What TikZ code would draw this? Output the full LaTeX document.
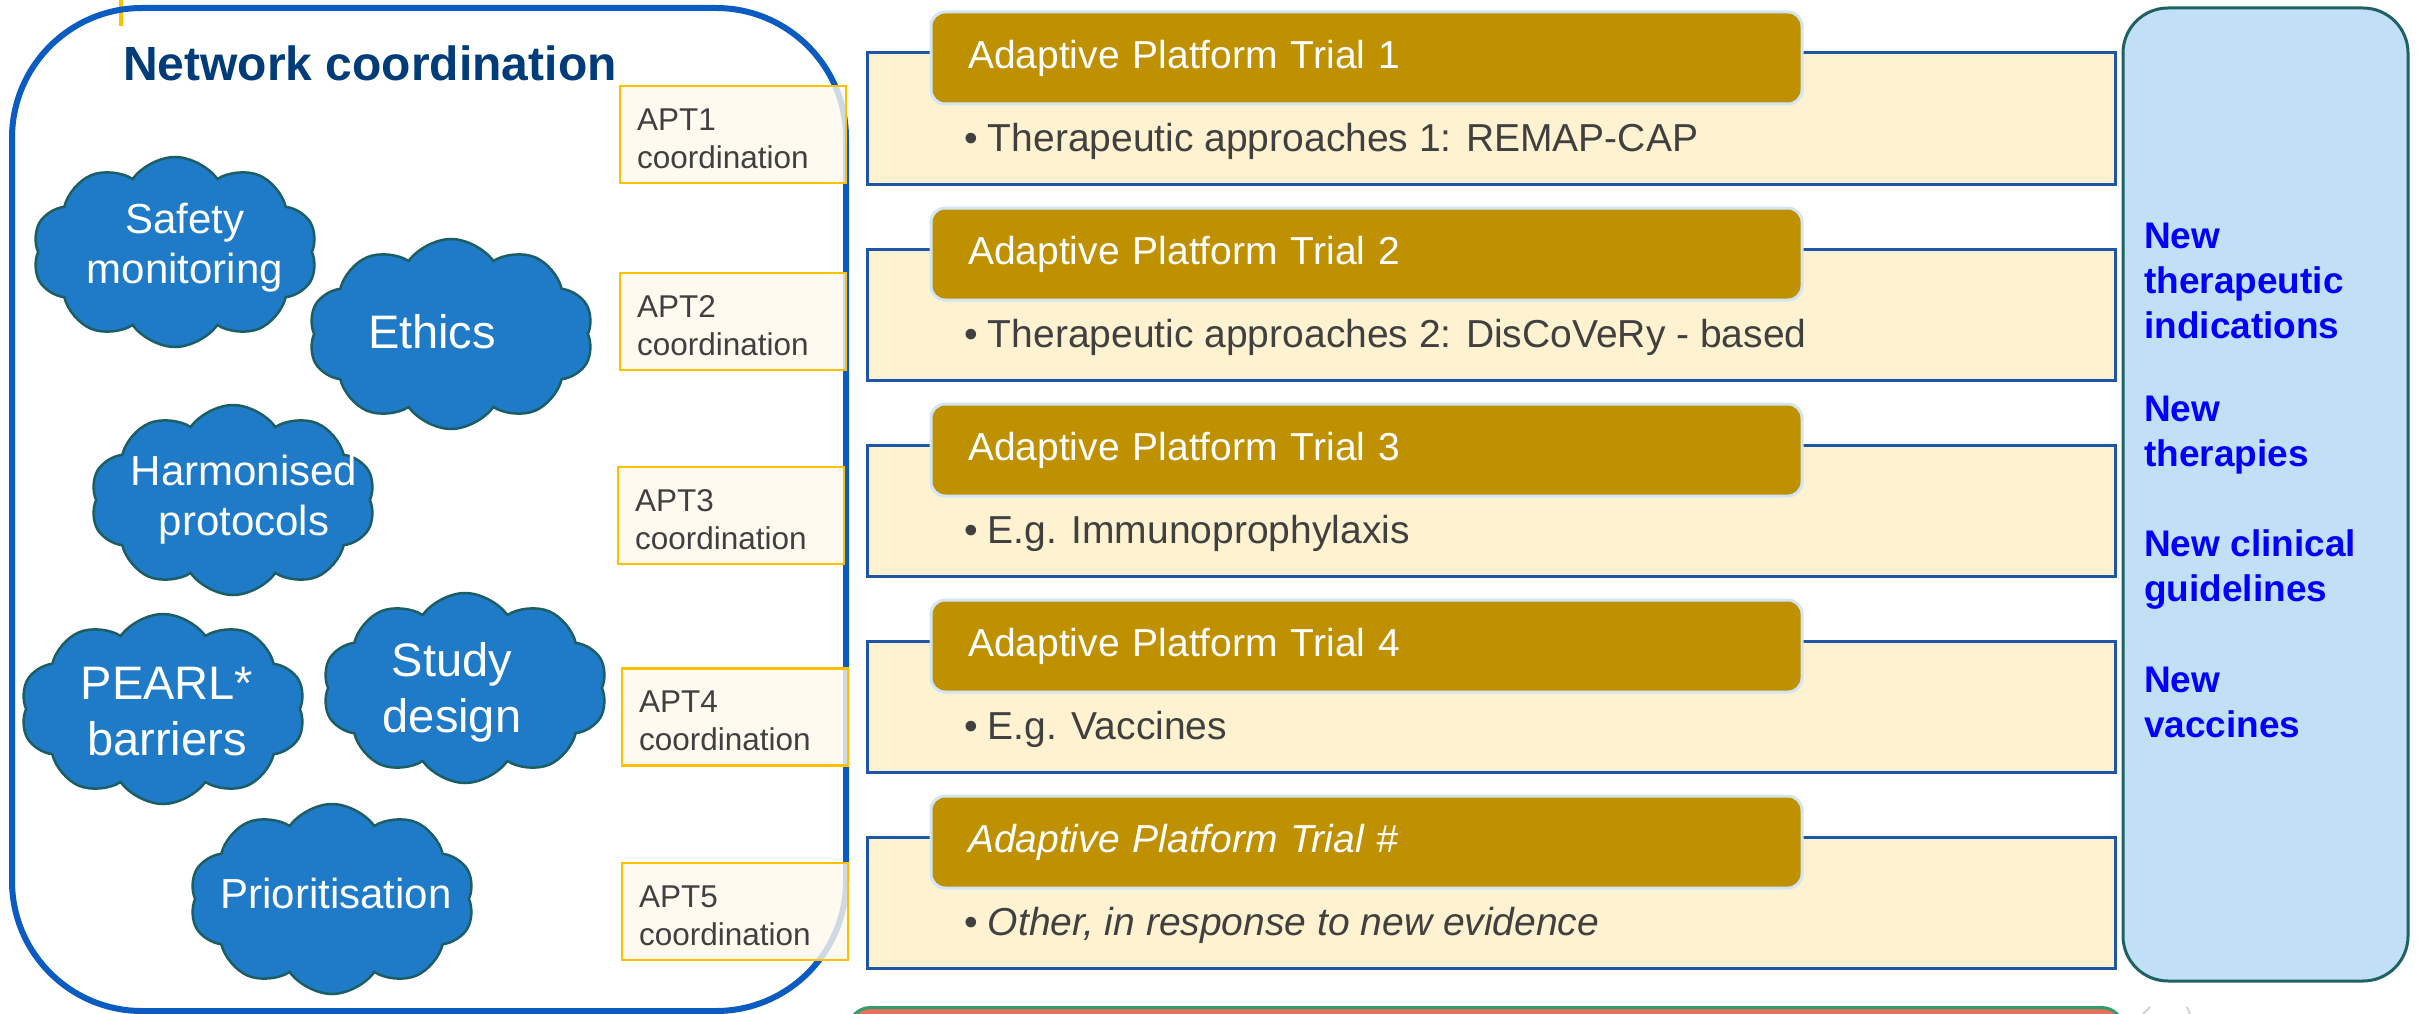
\documentclass[tikz,border=0pt]{standalone}
\usepackage{fontspec}
\setmainfont{Liberation Sans}
\usetikzlibrary{shapes.symbols}
\definecolor{netblue}{HTML}{0A5CC2}
\definecolor{navy}{HTML}{003B7A}
\definecolor{aptgold}{HTML}{FFC000}
\definecolor{aptfill}{HTML}{FFF9EC}
\definecolor{cloudblue}{HTML}{1F7BC8}
\definecolor{cloudline}{HTML}{1B5E63}
\definecolor{trialgold}{HTML}{BF9000}
\definecolor{headline}{HTML}{D2E5F6}
\definecolor{trialfill}{HTML}{FFF2D0}
\definecolor{trialline}{HTML}{1F56A8}
\definecolor{outblue}{HTML}{C2DFF8}
\definecolor{outline}{HTML}{1E6262}
\definecolor{outtext}{HTML}{0000FF}
\definecolor{textgray}{HTML}{404040}
\definecolor{barred}{HTML}{E8715A}
\definecolor{bargreen}{HTML}{2E9E6E}
\tikzset{
  cloudtopic/.style={cloud,cloud puffs=10,cloud puff arc=110,draw=cloudline,line width=2.5pt,fill=cloudblue,minimum width=285pt,minimum height=190pt,inner sep=0pt},
  cloudtext/.style={text=white,align=center,inner sep=0pt},
  aptbox/.style={draw=aptgold,line width=2.5pt,fill=aptfill,fill opacity=0.8,text opacity=1,text=textgray,align=left,minimum width=226pt,minimum height=97pt,text width=192pt,inner xsep=17pt,inner ysep=0pt,font=\fontsize{31.5}{38}\selectfont},
  trialbox/.style={draw=trialline,line width=3pt,fill=trialfill,minimum width=1248pt,minimum height=131pt,inner sep=0pt},
  trialhead/.style={draw=headline,line width=3pt,fill=trialgold,rounded corners=14pt,minimum width=871pt,minimum height=92pt,text width=797pt,inner xsep=37pt,inner ysep=0pt,align=left,text=white,font=\fontsize{39}{45}\selectfont},
  trialbody/.style={anchor=west,inner sep=0pt,text=textgray,font=\fontsize{39}{45}\selectfont},
  outcome/.style={anchor=west,align=left,inner sep=0pt,text=outtext,font=\bfseries\fontsize{37}{45}\selectfont}
}
\begin{document}
\begin{tikzpicture}[x=1pt,y=-1pt]
\clip (0,0) rectangle (2420,1014);
\fill[white] (0,0) rectangle (2420,1014);
\draw[aptgold,line width=4pt] (121,0) -- (121,26);
\draw[netblue,line width=6pt,rounded corners=130pt] (12,8) rectangle (846,1011);
\node[font=\bfseries\fontsize{48}{56}\selectfont,text=navy] (title) at (370,63) {Network coordination};
\foreach \n/\x/\y in {safety/175/252,ethics/451/334,harmon/233/500,pearl/163/709,study/465/688,prior/332/899} {
    \node[cloudtopic] (\n) at (\x,\y) {};
}
\node[cloudtext,font=\fontsize{42}{50}\selectfont] (safetytxt) at (185,248) {Safety\\monitoring};
\node[cloudtext,font=\fontsize{47}{56}\selectfont] (ethicstxt) at (432,332) {Ethics};
\node[cloudtext,font=\fontsize{42}{50}\selectfont] (harmontxt) at (244,500) {Harmonised\\protocols};
\node[cloudtext,font=\fontsize{47}{56}\selectfont] (pearltxt) at (167,712) {PEARL*\\barriers};
\node[cloudtext,font=\fontsize{47}{56}\selectfont] (studytxt) at (452,692) {Study\\design};
\node[cloudtext,font=\fontsize{42}{50}\selectfont] (priortxt) at (336,893) {Prioritisation};
\foreach \i/\x/\y in {1/733/134.5,2/733/321.5,3/731/515.5,4/735/717,5/735/911.5} {
    \node[aptbox] (apt\i) at (\x,\y) {\rule{0pt}{30pt}APT\i\\coordination};
}
\foreach \i/\t/\head/\body in {1/53/{Adaptive Platform Trial 1}/{Therapeutic approaches 1: REMAP-CAP},
    2/249/{Adaptive Platform Trial 2}/{Therapeutic approaches 2: DisCoVeRy - based},
    3/445/{Adaptive Platform Trial 3}/{E.g. Immunoprophylaxis},
    4/641/{Adaptive Platform Trial 4}/{E.g. Vaccines},
    5/837/{\itshape Adaptive Platform Trial \#}/{\itshape Other, in response to new evidence}} {
    \node[trialbox] (trial\i) at (1491,\t+65.5) {};
    \node[trialhead] (head\i) at (1366.5,\t+5) {\head};
    \node[trialbody] (body\i) at (964,\t+88) {\textbullet\hspace{10pt}\body};
}
\node[draw=outline,line width=3pt,fill=outblue,rounded corners=45pt,minimum width=285pt,minimum height=973pt] (outcomes) at (2265.5,494.5) {};
\foreach \i/\y/\txt in {1/280.5/{New\\therapeutic\\indications},2/435/{New\\therapies},3/569.5/{New clinical\\guidelines},4/702.5/{New\\vaccines}} {
    \node[outcome] (out\i) at (2144,\y) {\txt};
}
\node[draw=bargreen,line width=3pt,fill=barred,rounded corners=22pt,minimum width=1275pt,minimum height=80pt,anchor=north west] (bar) at (847,1006) {};
\draw[gray!35,line width=2pt] (2143,1014) -- (2150,1007);
\draw[gray!35,line width=2pt] (2187,1007) -- (2190,1014);
\end{tikzpicture}
\end{document}
